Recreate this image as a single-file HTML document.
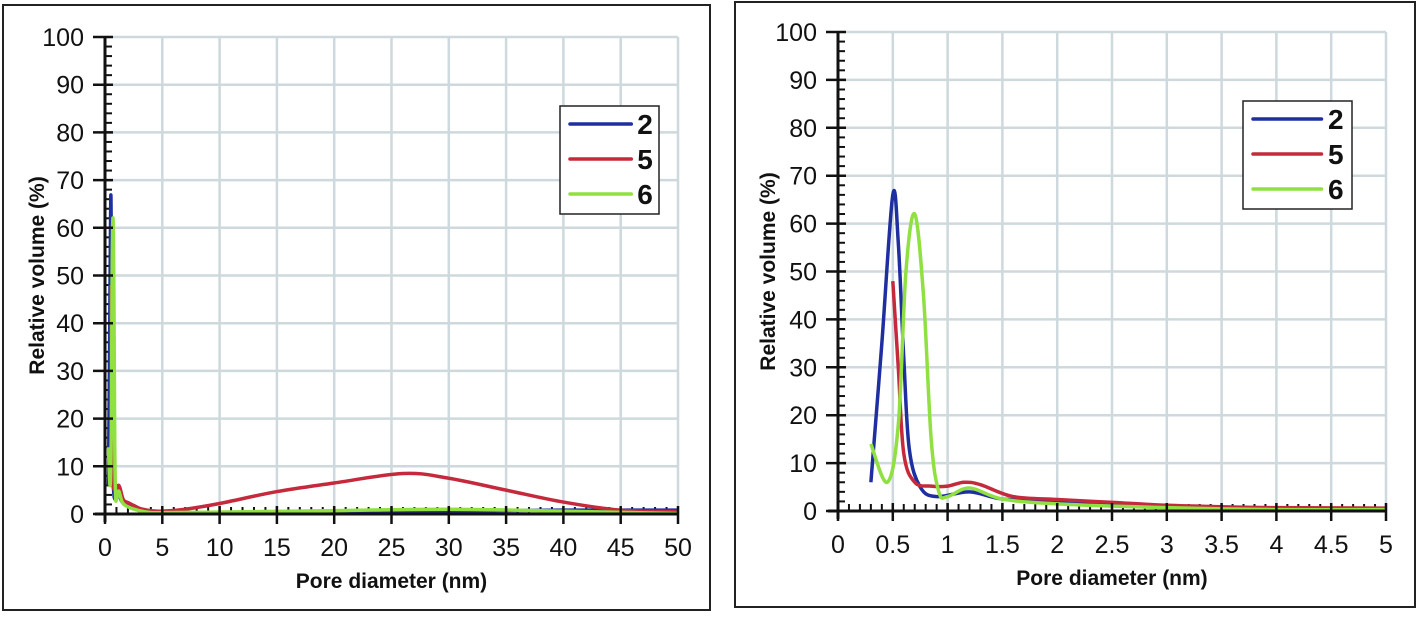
<!DOCTYPE html>
<html><head><meta charset="utf-8"><style>
body{margin:0;background:#fff;font-family:"Liberation Sans",Arial,sans-serif}
svg text{font-family:"Liberation Sans",Arial,sans-serif}
</style></head><body>
<svg id="s" width="1418" height="615" xmlns="http://www.w3.org/2000/svg">
<rect x="3" y="5" width="707" height="605" fill="#fff" stroke="#222" stroke-width="2"/>
<rect x="735" y="2" width="680" height="605" fill="#fff" stroke="#222" stroke-width="2"/>
</svg>
<script>
const seriesNames=["2","5","6"];
const seriesColors=["#1f2fa0","#c42a3c","#8fe040"];
const s2x=[0.3,0.4,0.5,0.55,0.6,0.65,0.75,0.9,1.2,1.5,2,3,4,5,10,20,30,40,50];
const s2y=[6,35,66,56,32,13,5,3,4,2.5,2,1,0.4,0.3,0.3,0.4,0.6,0.8,0.8];
const s5x=[0.5,0.55,0.6,0.7,0.85,1,1.15,1.3,1.6,2,2.5,3,3.5,4,5,7,10,15,20,26,30,35,40,45,50];
const s5y=[48,30,12,6,5.2,5.2,6,5.5,3,2.4,1.8,1.2,0.9,0.7,0.6,1,2.2,4.7,6.5,8.5,7.5,5,2.5,0.8,0.5];
const s6x=[0.3,0.45,0.55,0.62,0.7,0.78,0.85,0.92,1,1.2,1.5,2,3,4,5,10,20,30,40,50];
const s6y=[14,6,18,50,62,45,15,4,3,4.8,2.5,1.5,0.7,0.3,0.3,0.4,0.7,1,0.6,0.1];
const allX=[s2x,s5x,s6x], allY=[s2y,s5y,s6y];
const leftXTicks=["0","5","10","15","20","25","30","35","40","45","50"];
const rightXTicks=["0","0.5","1","1.5","2","2.5","3","3.5","4","4.5","5"];
const yTicks=["0","10","20","30","40","50","60","70","80","90","100"];
const NS="http://www.w3.org/2000/svg";
const svg=document.getElementById('s');
function mk(tag,attrs,parent){const e=document.createElementNS(NS,tag);for(const k in attrs)e.setAttribute(k,attrs[k]);(parent||svg).appendChild(e);return e;}
function chart(cfg){
 const g=mk('g',{});
 
 
 const X=v=>cfg.x0+(v-cfg.xmin)/(cfg.xmax-cfg.xmin)*(cfg.x1-cfg.x0);
 const Y=v=>cfg.y0+(v/100)*(cfg.y1-cfg.y0);
 cfg.xt.forEach((t,i)=>{const v=+t;if(i>0){const l=mk('line',{x1:X(v),x2:X(v),y1:cfg.y1,y2:cfg.y0,stroke:'#cdd9dc','stroke-width':2.5},g);}});
 yTicks.forEach((t,i)=>{const v=+t;if(i>0){const l=mk('line',{x1:cfg.x0,x2:cfg.x1,y1:Y(v),y2:Y(v),stroke:'#cdd9dc','stroke-width':2.5},g);}});
 for(let v=0;v<=100;v+=2){mk('line',{x1:cfg.x0,x2:cfg.x0+7,y1:Y(v),y2:Y(v),stroke:'#111','stroke-width':2},g);}
 const step=(cfg.xmax-cfg.xmin)/50;
 for(let k=0;k<=50;k++){const v=cfg.xmin+k*step;mk('line',{x1:X(v),x2:X(v),y1:cfg.y0,y2:cfg.y0-7,stroke:'#111','stroke-width':2},g);}
 for(let si=0;si<3;si++){
  const pts=[];allX[si].forEach((xv,j)=>{if(xv<=cfg.xmax+1e-9)pts.push([X(xv),Y(allY[si][j])]);});
  let d='M'+pts[0][0]+','+pts[0][1];
  for(let j=0;j<pts.length-1;j++){const p0=pts[j-1]||pts[j],p1=pts[j],p2=pts[j+1],p3=pts[j+2]||p2;const t=0.17;
   d+=' C'+(p1[0]+(p2[0]-p0[0])*t)+','+(p1[1]+(p2[1]-p0[1])*t)+' '+(p2[0]-(p3[0]-p1[0])*t)+','+(p2[1]-(p3[1]-p1[1])*t)+' '+p2[0]+','+p2[1];}
  const p=mk('path',{d:d,fill:'none',stroke:seriesColors[si],'stroke-width':3.5,'stroke-linejoin':'round'},g);
  
  
 }
 mk('line',{x1:cfg.x0,x2:cfg.x0,y1:cfg.y1,y2:cfg.y0+8,stroke:'#111','stroke-width':3},g);
 mk('line',{x1:cfg.x0-10,x2:cfg.x1,y1:cfg.y0,y2:cfg.y0,stroke:'#111','stroke-width':3},g);
 yTicks.forEach(t=>{const v=+t;mk('line',{x1:cfg.x0-12,x2:cfg.x0+8,y1:Y(v),y2:Y(v),stroke:'#111','stroke-width':2.5},g);
  const tx=mk('text',{x:cfg.x0-21,y:Y(v)+9,'text-anchor':'end','font-size':25,fill:'#111'},g);tx.textContent=t;
  });
 cfg.xt.forEach(t=>{const v=+t;mk('line',{x1:X(v),x2:X(v),y1:cfg.y0-8,y2:cfg.y0+10,stroke:'#111','stroke-width':2.5},g);
  const tx=mk('text',{x:X(v),y:cfg.y0+42,'text-anchor':'middle','font-size':25,fill:'#111'},g);tx.textContent=t;
  });
 const xt=mk('text',{x:(cfg.x0+cfg.x1)/2,y:cfg.y0+74,'text-anchor':'middle','font-size':21,'font-weight':'bold',fill:'#111'},g);xt.textContent='Pore diameter (nm)';
 
 const yt=mk('text',{x:0,y:0,transform:'translate('+cfg.ytx+','+((cfg.y0+cfg.y1)/2)+') rotate(-90)','text-anchor':'middle','font-size':21,'font-weight':'bold',fill:'#111'},g);yt.textContent='Relative volume (%)';
 
 const L=cfg.leg;
 const lg=mk('g',{},g);
 mk('rect',{x:L.x,y:L.y,width:L.w,height:L.h,fill:'#fff',stroke:'#222','stroke-width':1.5},lg);
 seriesNames.forEach((n,i)=>{const yy=L.y+18+i*L.dy;
  const ln=mk('line',{x1:L.x+10,x2:L.x+L.w*0.72,y1:yy,y2:yy,stroke:seriesColors[i],'stroke-width':3.5,'stroke-linecap':'round'},lg);
  
  const tx=mk('text',{x:L.x+L.w*0.78,y:yy+10,'font-size':28,'font-weight':'bold',fill:'#111'},lg);tx.textContent=n;
  });
}
chart({name:'left-chart',x0:105,x1:678,xmin:0,xmax:50,y0:514,y1:37,xt:leftXTicks,ytx:44,leg:{x:560,y:106,w:99,h:108,dy:35}});
chart({name:'right-chart',x0:838,x1:1386,xmin:0,xmax:5,y0:511,y1:32,xt:rightXTicks,ytx:775,leg:{x:1243,y:101,w:109,h:108,dy:35}});
</script>
</body></html>
